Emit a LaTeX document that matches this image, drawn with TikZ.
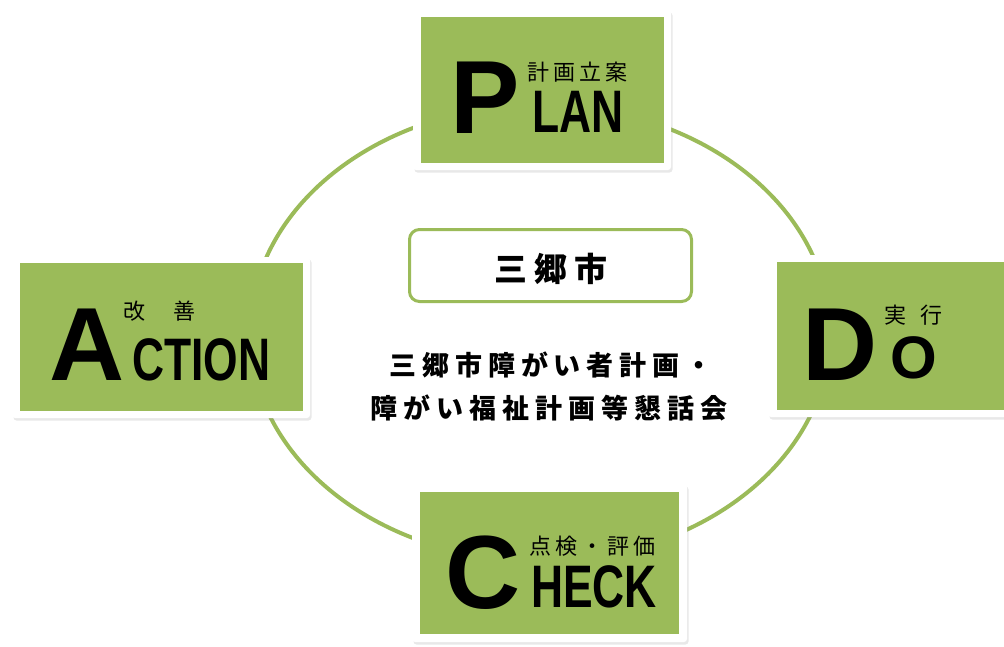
\documentclass[tikz,border=0pt]{standalone}
\usepackage{fontspec}
\setmainfont{Liberation Sans}
\newfontfamily\narrowsans[FakeStretch=0.74]{Liberation Sans}
\newfontfamily\jpfont[LetterSpace=18]{Noto Sans CJK JP}
\newfontfamily\jptitle[LetterSpace=22]{Noto Sans CJK JP}
\usetikzlibrary{shadows}
\definecolor{pdca}{HTML}{9BBB59}
\tikzset{
  ringline/.style={draw=pdca, line width=4pt},
  cardframe/.style={fill=white, inner sep=0pt, rounded corners=3pt,
    drop shadow={shadow xshift=1.5pt, shadow yshift=-2.5pt, opacity=0.18}},
  card/.style={fill=pdca, inner sep=0pt},
  citybox/.style={draw=pdca, line width=3pt, rounded corners=10pt, fill=white,
    minimum width=282pt, minimum height=72pt, inner sep=0pt},
  bigletter/.style={anchor=base west, inner sep=0pt, font=\fontsize{104}{104}\selectfont\bfseries},
  restword/.style={anchor=base west, inner sep=0pt, font=\narrowsans\fontsize{60}{60}\selectfont\bfseries},
  jlabel/.style={anchor=base west, inner sep=0pt, font=\jpfont\fontsize{22}{22}\selectfont},
  title/.style={anchor=base, inner sep=0pt, font=\jptitle\fontsize{27}{27}\selectfont\bfseries},
}
\begin{document}
\begin{tikzpicture}[x=1pt,y=-1pt]
\useasboundingbox (0,0) rectangle (1004,646);
\clip (0,0) rectangle (1004,646);
% cycle ring
\draw[ringline] (540,333) ellipse [x radius=290, y radius=228];
% centre
\node[citybox] (city) at (550.5,265.5) {};
\node[title, font=\jptitle\fontsize{33}{33}\selectfont\bfseries] (citylabel) at (551,281) {三郷市};
\node[title] (meet1) at (551,375) {三郷市障がい者計画・};
\node[title] (meet2) at (549,418) {障がい福祉計画等懇話会};
% plan
\node[cardframe, minimum width=258pt, minimum height=160pt] (planframe) at (542,90) {};
\node[card, minimum width=243pt, minimum height=146pt] (plan) at (542.5,90) {};
\node[bigletter] (planP) at (450,133) {P};
\node[restword] (planword) at (532,132) {LAN};
\node[jlabel] (planjp) at (527,80) {計画立案};
% do
\node[cardframe, minimum width=244pt, minimum height=162pt] (doframe) at (890,336) {};
\node[card, minimum width=230pt, minimum height=148pt] (do) at (892,336) {};
\node[bigletter] (doD) at (802,380) {D};
\node[bigletter, font=\fontsize{60}{60}\selectfont\bfseries] (doword) at (890,378) {O};
\node[jlabel] (dojp) at (884,323) {実\hspace{14pt}行};
% check
\node[cardframe, minimum width=275pt, minimum height=158pt] (checkframe) at (549.5,563) {};
\node[card, minimum width=259pt, minimum height=142pt] (check) at (549.5,563) {};
\node[bigletter] (checkC) at (445,608) {C};
\node[restword] (checkword) at (531,607) {HECK};
\node[jlabel] (checkjp) at (529,554) {点検・評価};
% action
\node[cardframe, minimum width=298pt, minimum height=161pt] (actionframe) at (161,337.5) {};
\node[card, minimum width=283pt, minimum height=148pt] (action) at (161.5,337) {};
\node[bigletter] (actionA) at (49,380) {A};
\node[restword] (actionword) at (132,380) {CTION};
\node[jlabel] (actionjp) at (123,319) {改\hspace{28pt}善};
\end{tikzpicture}
\end{document}
